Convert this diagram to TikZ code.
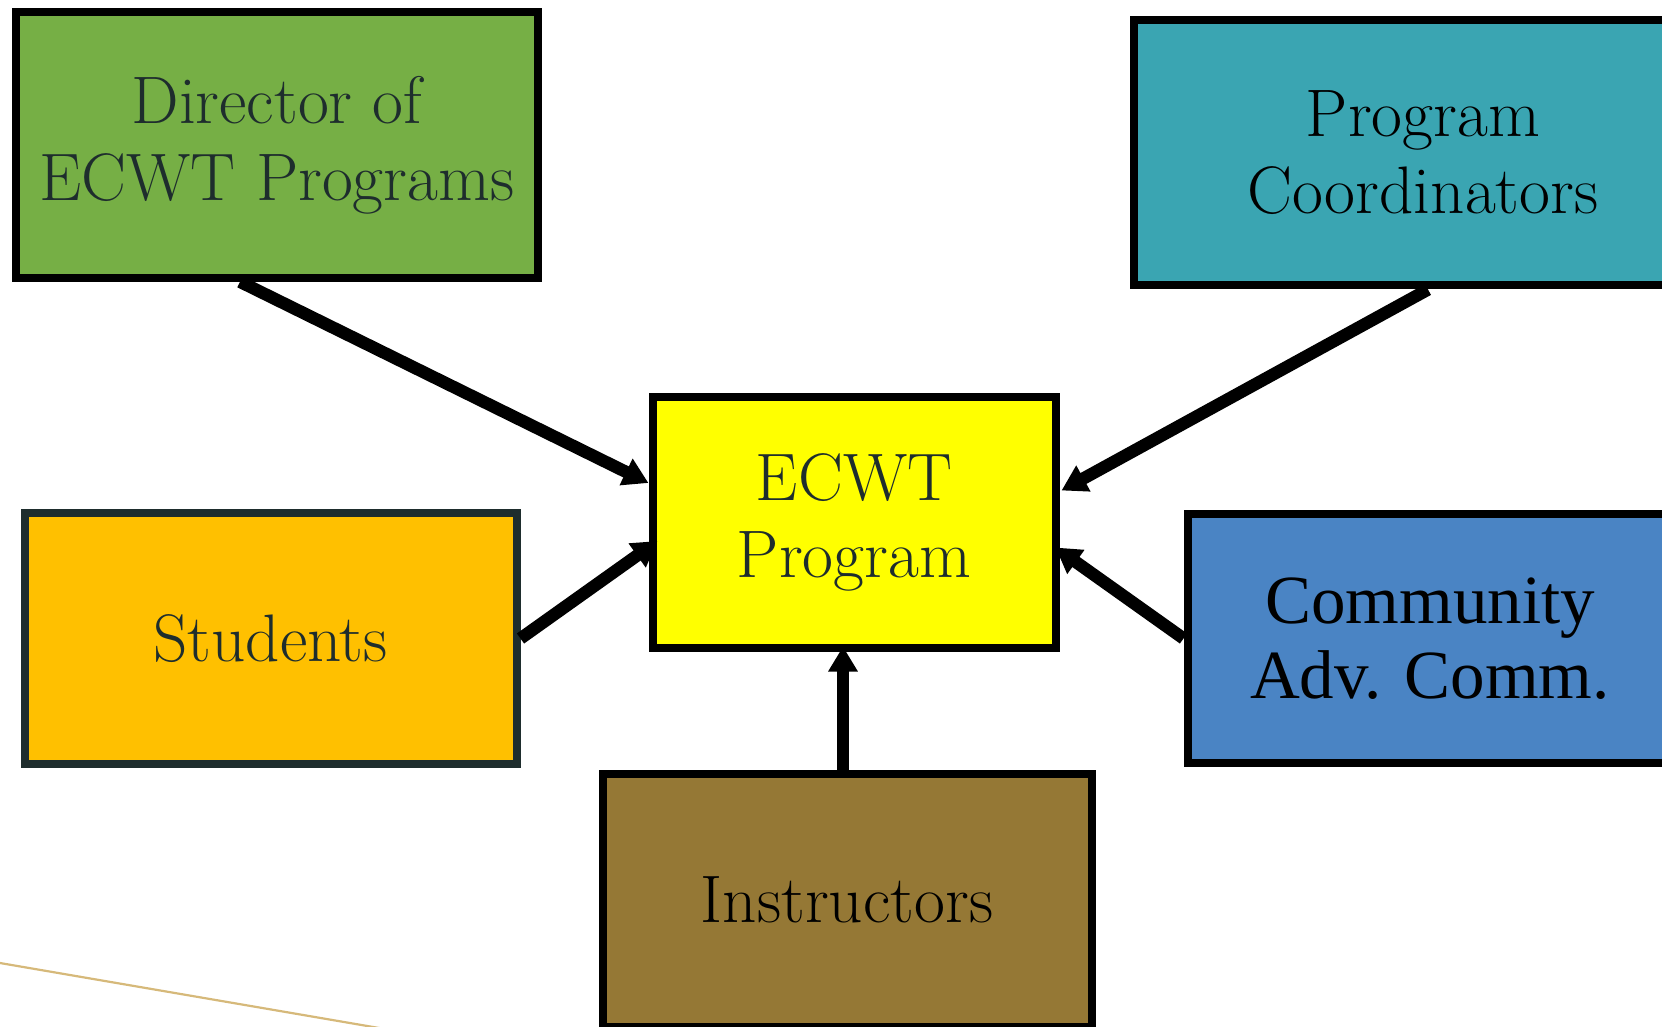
\documentclass[tikz,border=0pt]{standalone}
\usepackage{fontspec}
\newfontfamily\commfont{Liberation Serif}
\usetikzlibrary{arrows.meta,calc}
\definecolor{dirgreen}{RGB}{118,175,69}
\definecolor{pcteal}{RGB}{58,165,178}
\definecolor{ecwtyellow}{RGB}{255,255,0}
\definecolor{studgold}{RGB}{255,192,0}
\definecolor{commblue}{RGB}{74,132,196}
\definecolor{instbrown}{RGB}{149,120,53}
\definecolor{slate}{RGB}{30,45,45}
\definecolor{tanline}{RGB}{214,185,122}
\begin{document}
\begin{tikzpicture}[x=0.5pt,y=-0.5pt,
  box/.style={draw=black,line width=4pt,rectangle,align=center,inner sep=0pt,
    font={\fontsize{33.6}{38.5}\selectfont}},
  conn/.style={line width=6.2pt,-{Triangle[length=12.5pt,width=14pt]}},
  accentline/.style={draw=tanline,line width=1.1pt}
]
\useasboundingbox (0,0) rectangle (1662,1027);

\node[box,fill=dirgreen,text=slate,minimum width=261pt,minimum height=132.75pt] (dir) at (277,145) {Director of\\ECWT Programs};
\node[box,fill=pcteal,text=black,minimum width=289.5pt,minimum height=132.5pt] (pc) at (1423,153) {Program\\Coordinators};
\node[box,fill=ecwtyellow,text=slate,minimum width=201.5pt,minimum height=125pt] (ecwt) at (854,522.5) {ECWT\\Program};
\node[box,draw=slate,fill=studgold,text=slate,minimum width=246pt,minimum height=125pt] (stud) at (270.5,638.5) {Students};
\node[box,fill=commblue,text=black,minimum width=242.5pt,minimum height=124pt,
  font={\commfont\fontsize{34.5}{37.5}\selectfont}] (comm) at (1430,638.5) {Community\\Adv. Comm.};
\node[box,fill=instbrown,text=black,minimum width=244.5pt,minimum height=126.5pt] (inst) at (847,900) {Instructors};

\draw[conn] ($(dir.south)+(-37,0)$) -- ($(ecwt.west)+(0,-39.5)$);
\draw[conn] ($(pc.south)+(5,0)$) -- ($(ecwt.east)+(2,-32)$);
\draw[conn] (stud.east) -- ($(ecwt.west)+(9,18.5)$);
\draw[conn] (comm.west) -- ($(ecwt.east)+(-4,25)$);
\draw[conn] ($(inst.north)+(-4,0)$) -- ($(ecwt.south)+(-11,-5)$);

\draw[accentline] (-10,961.3) -- (400,1031.6);
\end{tikzpicture}
\end{document}
